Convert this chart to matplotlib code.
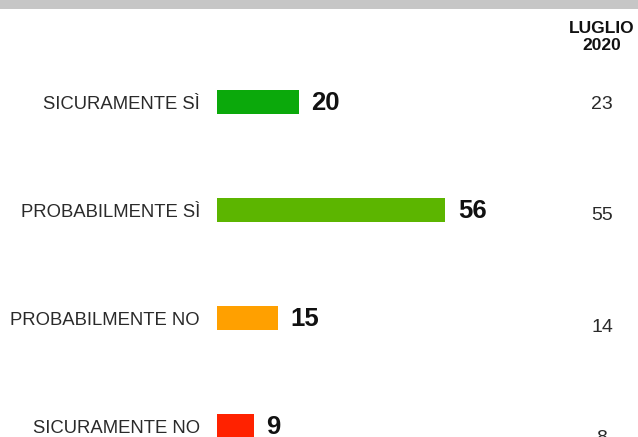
import matplotlib.pyplot as plt
from matplotlib.patches import Rectangle

# Dati
categorie = ['SICURAMENTE SÌ', 'PROBABILMENTE SÌ', 'PROBABILMENTE NO', 'SICURAMENTE NO']
valori = [20, 56, 15, 9]
luglio_2020 = [23, 55, 14, 8]
colori = ['#0BA90B', '#5CB500', '#FFA000', '#FF2200']

plt.rcParams['font.family'] = ['Liberation Sans', 'DejaVu Sans']

fig = plt.figure(figsize=(6.38, 4.37), dpi=100)
fig.patch.set_facecolor('white')

# banda grigia in alto
fig.patches.append(Rectangle((0, 1 - 9 / 437), 1, 9 / 437, transform=fig.transFigure,
                             facecolor='#C6C6C6', edgecolor='none'))

# asse: 1 unita = ~4.08 px, barre a 108 px di distanza
x0 = 217 / 638
ax = fig.add_axes([x0, 0, 1 - x0, 1])
ax.set_xlim(0, (638 - 217) / 4.08)
ax.set_ylim((437 - 102) / 108, -102 / 108)
ax.axis('off')

y = list(range(len(categorie)))
ax.barh(y, valori, height=0.215, color=colori, left=0)

x_col = (602 - 217) / 4.08  # colonna luglio 2020
dy = 0.025
for i, (cat, v, old) in enumerate(zip(categorie, valori, luglio_2020)):
    ax.text(-4.2, i + dy, cat, ha='right', va='center', fontsize=13.3, color='#2a2a2a',
            clip_on=False)
    ax.text(v + 3, i + 0.005, str(v), ha='left', va='center', fontsize=18.5, fontweight='bold',
            color='#111111', clip_on=False)
    ax.text(x_col, i + dy + 0.03 * i, str(old), ha='center', va='center',
            fontsize=14, color='#2a2a2a', clip_on=False)

ax.text(x_col, -0.6, 'LUGLIO\n2020', ha='center', va='center', fontsize=12.5,
        fontweight='bold', color='#111111', linespacing=1.15, clip_on=False)

fig.savefig('out.png', dpi=100)
